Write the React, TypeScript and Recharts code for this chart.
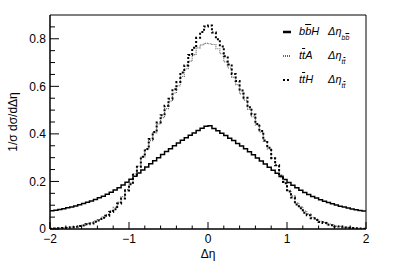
import React from 'react';
import { Legend, Line, LineChart, ReferenceArea, XAxis, YAxis } from 'recharts';

// histogram binning: 80 bins of 0.05 from -2 to 2
const binLow = -2;
const binWidth = 0.05;

const bbH = [
  0.077, 0.079, 0.082, 0.085, 0.089, 0.093, 0.097, 0.102, 0.107, 0.112,
  0.118, 0.124, 0.131, 0.138, 0.146, 0.155, 0.164, 0.174, 0.185, 0.197,
  0.209, 0.222, 0.235, 0.248, 0.261, 0.274, 0.287, 0.300, 0.313, 0.326,
  0.338, 0.350, 0.362, 0.373, 0.384, 0.394, 0.404, 0.414, 0.424, 0.432,
  0.434, 0.423, 0.413, 0.403, 0.393, 0.382, 0.372, 0.360, 0.349, 0.337,
  0.325, 0.312, 0.299, 0.286, 0.273, 0.260, 0.247, 0.234, 0.221, 0.208,
  0.196, 0.184, 0.173, 0.163, 0.154, 0.145, 0.137, 0.130, 0.123, 0.117,
  0.111, 0.106, 0.101, 0.096, 0.092, 0.088, 0.084, 0.081, 0.078, 0.076,
];

const ttA = [
  0.002, 0.002, 0.003, 0.005, 0.006, 0.008, 0.010, 0.014, 0.016, 0.022,
  0.026, 0.034, 0.040, 0.051, 0.061, 0.077, 0.091, 0.113, 0.136, 0.166,
  0.194, 0.232, 0.264, 0.302, 0.334, 0.372, 0.404, 0.442, 0.468, 0.506,
  0.538, 0.572, 0.602, 0.642, 0.674, 0.706, 0.733, 0.762, 0.774, 0.781,
  0.779, 0.776, 0.758, 0.737, 0.703, 0.677, 0.638, 0.607, 0.568, 0.542,
  0.503, 0.472, 0.438, 0.407, 0.368, 0.337, 0.298, 0.267, 0.228, 0.197,
  0.163, 0.139, 0.110, 0.094, 0.075, 0.063, 0.049, 0.042, 0.032, 0.028,
  0.021, 0.018, 0.012, 0.011, 0.007, 0.006, 0.004, 0.003, 0.002, 0.002,
];

const ttH = [
  0.001, 0.002, 0.003, 0.004, 0.005, 0.007, 0.009, 0.013, 0.015, 0.020,
  0.023, 0.031, 0.036, 0.047, 0.056, 0.072, 0.083, 0.107, 0.128, 0.162,
  0.188, 0.228, 0.262, 0.304, 0.336, 0.378, 0.408, 0.448, 0.478, 0.518,
  0.548, 0.588, 0.618, 0.658, 0.688, 0.732, 0.762, 0.804, 0.828, 0.852,
  0.856, 0.826, 0.798, 0.768, 0.726, 0.692, 0.652, 0.622, 0.582, 0.552,
  0.512, 0.482, 0.442, 0.412, 0.372, 0.342, 0.298, 0.268, 0.222, 0.192,
  0.158, 0.132, 0.103, 0.087, 0.068, 0.058, 0.045, 0.038, 0.029, 0.025,
  0.018, 0.016, 0.011, 0.010, 0.006, 0.005, 0.004, 0.003, 0.002, 0.001,
];

const xTicks = [-2, -1.8, -1.6, -1.4, -1.2, -1, -0.8, -0.6, -0.4, -0.2, 0, 0.2, 0.4, 0.6, 0.8, 1, 1.2, 1.4, 1.6, 1.8, 2];
const yTicks = [0, 0.05, 0.1, 0.15, 0.2, 0.25, 0.3, 0.35, 0.4, 0.45, 0.5, 0.55, 0.6, 0.65, 0.7, 0.75, 0.8, 0.85];

const FONT = '"Liberation Sans", Arial, Helvetica, sans-serif';

// step histogram: one point per bin low edge, plus closing point at the upper edge
const histData = bbH.map((_, i) => ({
  x: +(binLow + i * binWidth).toFixed(3),
  bbH: bbH[i],
  ttA: ttA[i],
  ttH: ttH[i],
}));
histData.push({ x: 2, bbH: bbH[bbH.length - 1], ttA: ttA[ttA.length - 1], ttH: ttH[ttH.length - 1] });

const fmtTick = (v: number) => {
  if (v === 0) return '0';
  return (v < 0 ? '\u2212' : '') + Math.abs(v).toString();
};

const XTick = ({ x, y, payload }: any) => {
  const v = payload.value;
  const major = Math.abs(v - Math.round(v)) < 1e-6;
  return (
    <g>
      <line x1={x} x2={x} y1={y} y2={y - (major ? 7 : 3.5)} stroke="#000" />
      {major && (
        <text x={x} y={y + 14} textAnchor="middle" fontSize={12} fontFamily={FONT} fill="#000">
          {fmtTick(v)}
        </text>
      )}
    </g>
  );
};

const YTick = ({ x, y, payload }: any) => {
  const v = payload.value;
  const major = Math.abs(v * 5 - Math.round(v * 5)) < 1e-6;
  return (
    <g>
      <line x1={x} x2={x + (major ? 9 : 5)} y1={y} y2={y} stroke="#000" />
      {major && (
        <text x={x - 4} y={y + 4.3} textAnchor="end" fontSize={12} fontFamily={FONT} fill="#000">
          {fmtTick(v)}
        </text>
      )}
    </g>
  );
};

const legendLabels: any = {
  bbH: { proc: ['b', 'b', 'H'], sub: 'bb' },
  ttA: { proc: ['t', 't', 'A'], sub: 'tt' },
  ttH: { proc: ['t', 't', 'H'], sub: 'tt' },
};

const renderLegend = (props: any) => {
  const { payload } = props;
  return (
    <div style={{ fontFamily: FONT, fontStyle: 'italic', fontSize: 11, color: '#000' }}>
      {payload.map((entry: any) => {
        const lab = legendLabels[entry.dataKey];
        const dash = entry.payload?.strokeDasharray;
        return (
          <div key={entry.dataKey} style={{ height: 24, position: 'relative' }}>
            <svg width={10} height={10} style={{ position: 'absolute', left: 0, top: 0 }}>
              <line x1={1} x2={9} y1={5} y2={5} stroke={entry.color}
                strokeWidth={entry.dataKey === 'bbH' ? 2.5 : 2} strokeDasharray={dash} />
            </svg>
            <span style={{ position: 'absolute', left: 17, top: -2 }}>
              {lab.proc[0]}
              <span style={{ textDecoration: 'overline' }}>{lab.proc[1]}</span>
              {lab.proc[2]}
            </span>
            <span style={{ position: 'absolute', left: 46, top: -2 }}>
              Δη
              <span style={{ fontSize: 7, position: 'relative', top: 5 }}>
                {lab.sub[0]}
                <span style={{ textDecoration: 'overline' }}>{lab.sub[1]}</span>
              </span>
            </span>
          </div>
        );
      })}
    </div>
  );
};

export default function App() {
  return (
    <div style={{ position: 'absolute', left: 0, top: 0, background: '#fff' }}>
      <LineChart width={394} height={267} data={histData} margin={{ top: 15, right: 28, left: 0, bottom: 0 }}>
        <ReferenceArea x1={-2} x2={2} y1={0} y2={0.9} fill="none" stroke="#000" strokeWidth={1} />
        <XAxis
          dataKey="x"
          type="number"
          domain={[-2, 2]}
          ticks={xTicks}
          interval={0}
          height={38}
          tickSize={0}
          tickMargin={0}
          tickLine={false}
          axisLine={{ stroke: '#000' }}
          tick={<XTick />}
          label={{ value: 'Δη', position: 'insideBottom', offset: 9, fontSize: 12, fontFamily: FONT, fill: '#000' }}
        />
        <YAxis
          type="number"
          domain={[0, 0.9]}
          allowDataOverflow
          ticks={yTicks}
          interval={0}
          width={50}
          tickSize={0}
          tickMargin={0}
          tickLine={false}
          axisLine={{ stroke: '#000' }}
          tick={<YTick />}
          label={{ value: '1/σ dσ/dΔη', angle: -90, position: 'insideLeft', offset: 13, fontSize: 12, fontFamily: FONT, fill: '#000', style: { textAnchor: 'middle' } }}
        />
        <Legend
          layout="horizontal"
          align="center"
          verticalAlign="middle"
          content={renderLegend}
          wrapperStyle={{ left: 282, top: 27, width: 90, height: 72 }}
        />
        <Line type="stepAfter" dataKey="bbH" stroke="#000" strokeWidth={1.5} dot={false} isAnimationActive={false} />
        <Line type="stepAfter" dataKey="ttA" stroke="#666" strokeWidth={1.2} strokeDasharray="1 1" dot={false} isAnimationActive={false} />
        <Line type="stepAfter" dataKey="ttH" stroke="#000" strokeWidth={2} strokeDasharray="2 2" dot={false} isAnimationActive={false} />
      </LineChart>
    </div>
  );
}
